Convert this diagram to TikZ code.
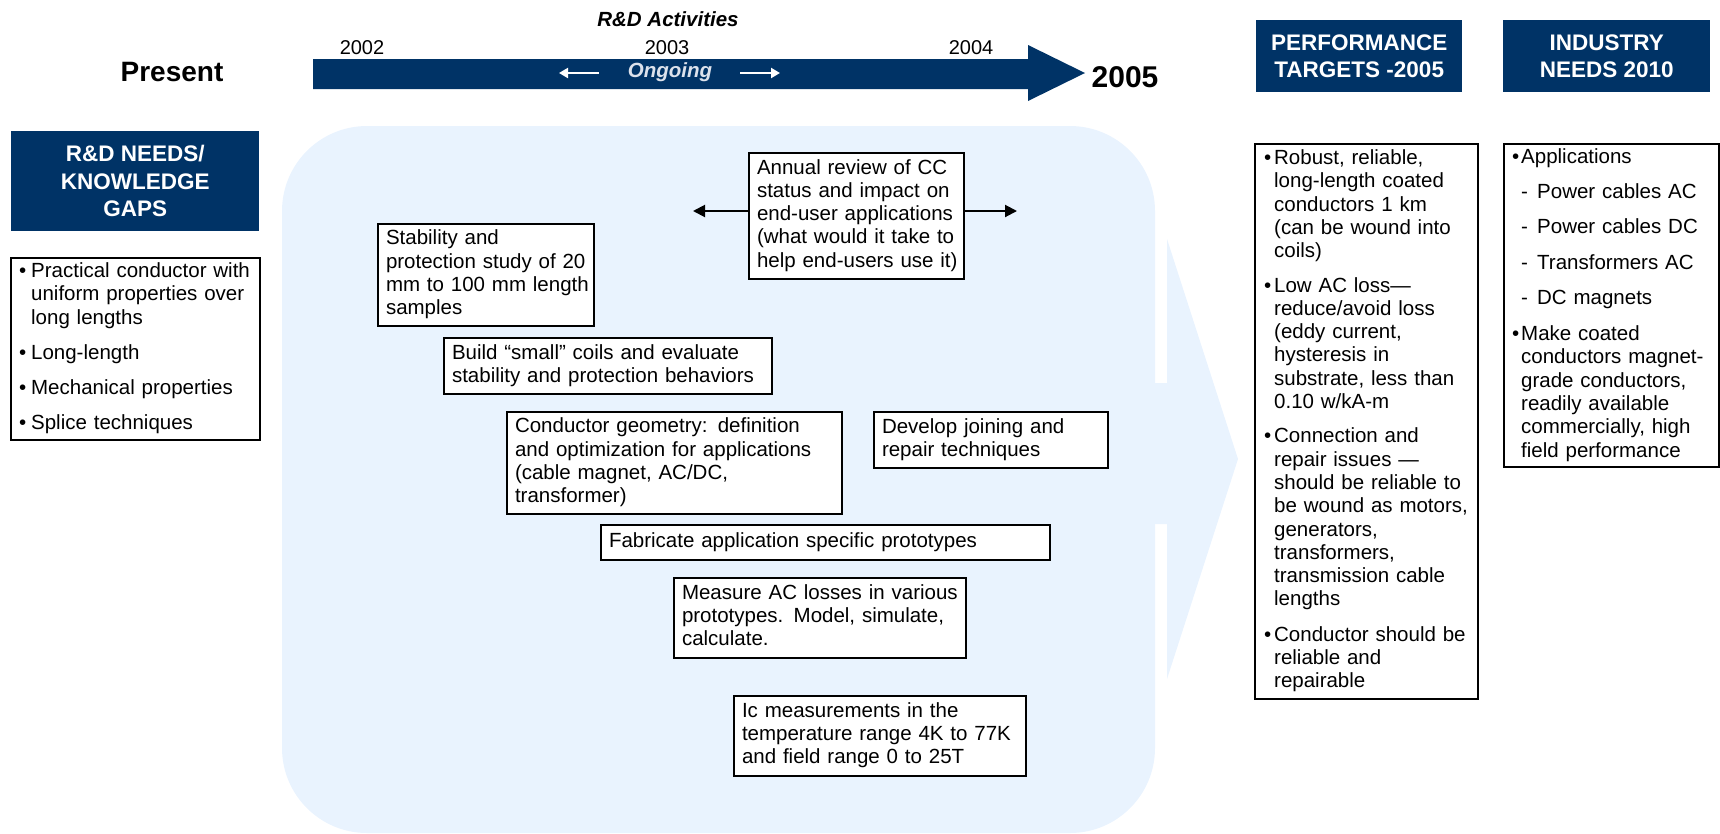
\documentclass[tikz,border=0pt]{standalone}
\usepackage{fontspec}
\setmainfont{Liberation Sans}
\usetikzlibrary{arrows.meta}
\definecolor{navy}{RGB}{0,51,102}
\definecolor{bgblue}{RGB}{233,243,254}
\definecolor{ongo}{RGB}{220,226,236}
\newcommand\bxfont{\fontsize{20.5}{23.3}\selectfont}
\newcommand\lns[1]{\begin{tabular}{@{}l@{}}#1\end{tabular}}
\tikzset{
  box/.style={draw=black, line width=2pt, fill=white, anchor=north west,
    inner xsep=8pt, inner ysep=0pt, align=left, font=\bxfont},
  head/.style={fill=navy, text=white, anchor=north west, inner sep=0pt,
    align=center, font=\fontsize{22.5}{27.5}\selectfont\bfseries},
  arr/.style={line width=2pt, -{Triangle[length=12pt,width=12pt]}},
  warr/.style={white, line width=2pt, -{Triangle[length=9pt,width=10pt]}}
}
\begin{document}
\begin{tikzpicture}[x=1pt,y=-1pt]
\useasboundingbox (0,0) rectangle (1720,833);
% background
\fill[bgblue, rounded corners=85pt] (282,126) rectangle (1155,833);
\fill[bgblue] (1150,383) -- (1167,383) -- (1167,239) -- (1238,459) -- (1167,679) -- (1167,524) -- (1150,524) -- cycle;
% timeline arrow
\fill[navy] (313,59) -- (1028,59) -- (1028,45) -- (1085,73) -- (1028,101) -- (1028,89) -- (313,89) -- cycle;
\node[font=\fontsize{20.5}{24}\selectfont\bfseries\itshape] (rda) at (668,19) {R\&D Activities};
\node[font=\fontsize{20}{24}\selectfont] (y2002) at (362,48) {2002};
\node[font=\fontsize{20}{24}\selectfont] (y2003) at (667,48) {2003};
\node[font=\fontsize{20}{24}\selectfont] (y2004) at (971,48) {2004};
\node[font=\fontsize{28}{32}\selectfont\bfseries] (present) at (172,72) {Present};
\node[font=\fontsize{30}{34}\selectfont\bfseries] (y2005) at (1125,77) {2005};
\node[text=ongo, font=\fontsize{20.5}{24}\selectfont\bfseries\itshape] (ongoing) at (670,72) {Ongoing};
\coordinate (la1) at (599,73);
\coordinate (la2) at (559,73);
\coordinate (ra1) at (740,73);
\coordinate (ra2) at (780,73);
\draw[warr] (la1) -- (la2);
\draw[warr] (ra1) -- (ra2);
% headers
\node[head, minimum width=248pt, minimum height=100pt] (rdhead) at (11,131) {R\&D NEEDS/\\KNOWLEDGE\\GAPS};
\node[head, minimum width=206pt, minimum height=72pt] (perfhead) at (1256,20) {PERFORMANCE\\TARGETS -2005};
\node[head, minimum width=207pt, minimum height=72pt] (indhead) at (1503,20) {INDUSTRY\\NEEDS 2010};
% left list
\node[box, minimum width=249pt, minimum height=182pt, text width=233pt] (gaps) at (10,257) {%
\begin{tabular}{@{}l@{\hspace{5pt}}l@{}}
•&Practical conductor with\\
&uniform properties over\\
&long lengths\\[12pt]
•&Long-length\\[12pt]
•&Mechanical properties\\[12pt]
•&Splice techniques
\end{tabular}};
% activity boxes
\node[box, minimum width=215pt, minimum height=126pt, text width=199pt] (annual) at (748,152) {\lns{Annual review of CC\\status and impact on\\end-user applications\\(what would it take to\\help end-users use it)}};
\coordinate (ltip) at (693,211);
\coordinate (rtip) at (1017,211);
\draw[arr] (annual.west |- ltip) -- (ltip);
\draw[arr] (annual.east |- rtip) -- (rtip);
\node[box, minimum width=216pt, minimum height=102pt, text width=200pt] (stab) at (377,223) {\lns{Stability and\\protection study of 20\\mm to 100 mm length\\samples}};
\node[box, minimum width=328pt, minimum height=56pt, text width=312pt] (build) at (443,337) {\lns{Build “small” coils and evaluate\\stability and protection behaviors}};
\node[box, minimum width=335pt, minimum height=102pt, text width=319pt] (cond) at (506,411) {\lns{Conductor geometry: definition\\and optimization for applications\\(cable magnet, AC/DC,\\transformer)}};
\node[box, minimum width=234pt, minimum height=56pt, text width=218pt] (dev) at (873,411) {\lns{Develop joining and\\repair techniques}};
\node[box, minimum width=449pt, minimum height=35pt, text width=433pt] (fab) at (600,524) {\lns{Fabricate application specific prototypes}};
\node[box, minimum width=292pt, minimum height=80pt, text width=276pt] (meas) at (673,577) {\lns{Measure AC losses in various\\prototypes. Model, simulate,\\calculate.}};
\node[box, minimum width=292pt, minimum height=80pt, text width=276pt] (ic) at (733,695) {\lns{Ic measurements in the\\temperature range 4K to 77K\\and field range 0 to 25T}};
% performance targets
\node[box, inner xsep=9pt, minimum width=223pt, minimum height=555pt, text width=205pt] (perf) at (1254,143) {%
\begin{tabular}{@{}l@{\hspace{3pt}}l@{}}
•&Robust, reliable,\\
&long-length coated\\
&conductors 1 km\\
&(can be wound into\\
&coils)\\[11pt]
•&Low AC loss—\\
&reduce/avoid loss\\
&(eddy current,\\
&hysteresis in\\
&substrate, less than\\
&0.10 w/kA-m\\[11pt]
•&Connection and\\
&repair issues —\\
&should be reliable to\\
&be wound as motors,\\
&generators,\\
&transformers,\\
&transmission cable\\
&lengths\\[12pt]
•&Conductor should be\\
&reliable and\\
&repairable
\end{tabular}};
% industry needs
\node[box, minimum width=215pt, minimum height=323pt, text width=199pt] (ind) at (1503,143) {%
\begin{tabular}{@{}l@{\hspace{2pt}}l@{}}
•&Applications\\[12pt]
&\makebox[16pt][l]{-}Power cables AC\\[12pt]
&\makebox[16pt][l]{-}Power cables DC\\[12pt]
&\makebox[16pt][l]{-}Transformers AC\\[12pt]
&\makebox[16pt][l]{-}DC magnets\\[13pt]
•&Make coated\\
&conductors magnet-\\
&grade conductors,\\
&readily available\\
&commercially, high\\
&field performance
\end{tabular}};
\end{tikzpicture}
\end{document}
